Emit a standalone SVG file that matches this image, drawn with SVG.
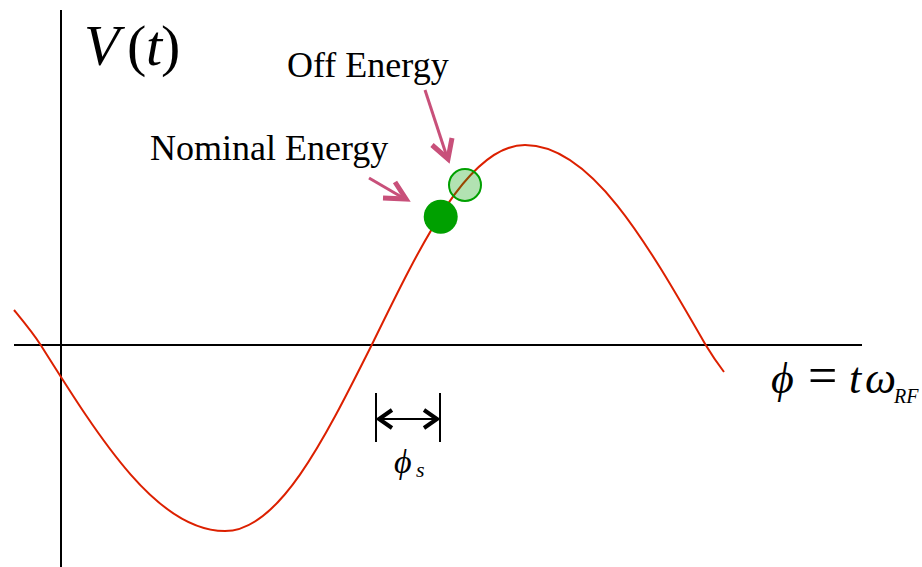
<svg xmlns="http://www.w3.org/2000/svg" width="922" height="567" viewBox="0 0 922 567">
<style>
.axis{stroke:#000;stroke-width:2;fill:none}
.wave{stroke:#dc2000;stroke-width:2;fill:none}
.pink{stroke:#c8507a;fill:none}
.t{font-family:'Liberation Serif','Times New Roman',serif;fill:#000}
.i{font-style:italic}
</style>
<rect width="922" height="567" fill="#fff"/>
<g id="axes">
<line class="axis" x1="61" y1="10" x2="61" y2="567"/>
<line class="axis" x1="14" y1="345" x2="862" y2="345"/>
</g>
<g id="wave">
<path class="wave" d="M14,310 C23,321 33,333 40.7,345 C102.2,442.7 157.8,531 225,531 C278.3,531 322.7,442.7 371.7,345 C422.9,240 469.3,145 525,145 C590.7,145 645.3,240 705.7,345 C712,355.5 718,364 724,372"/>
</g>
<g id="connectors">
<line class="pink" stroke-width="3" x1="425" y1="90" x2="447" y2="157"/>
<polyline class="pink" stroke-width="5" points="432,145 448,159 452,138"/>
<line class="pink" stroke-width="3" x1="369" y1="178" x2="405" y2="199"/>
<polyline class="pink" stroke-width="5" points="383,198 406,199 395,182"/>
</g>
<g id="nominal">
<circle cx="440.7" cy="216.7" r="17" fill="#00a000"/>
<text class="t" x="150" y="160" font-size="36">Nominal Energy</text>
</g>
<g id="off">
<circle cx="465" cy="185" r="16" fill="#00a000" fill-opacity="0.3" stroke="#00a000" stroke-width="2"/>
<text class="t" x="287" y="77" font-size="36">Off Energy</text>
</g>
<g id="phis">
<line class="axis" x1="376" y1="393" x2="376" y2="442"/>
<line class="axis" x1="440" y1="393" x2="440" y2="442"/>
<line class="axis" x1="379" y1="419" x2="437" y2="419"/>
<polyline fill="none" stroke="#000" stroke-width="4" points="392,410 379,419 392,428"/>
<polyline fill="none" stroke="#000" stroke-width="4" points="424,410 437,419 424,428"/>
<text class="t i" x="394" y="473" font-size="34">ϕ</text>
<text class="t i" x="416" y="477" font-size="22">s</text>
</g>
<g id="vt">
<text class="t" y="65" font-size="58"><tspan class="i" x="84">V</tspan><tspan x="127">(</tspan><tspan class="i" x="146">t</tspan><tspan x="161">)</tspan></text>
</g>
<g id="formula">
<text class="t" y="393" font-size="44"><tspan class="i" x="771">ϕ</tspan><tspan x="808" font-size="52">=</tspan><tspan class="i" x="849">t</tspan><tspan class="i" x="865">ω</tspan><tspan class="i" x="894" y="403" font-size="20">RF</tspan></text>
</g>
</svg>
